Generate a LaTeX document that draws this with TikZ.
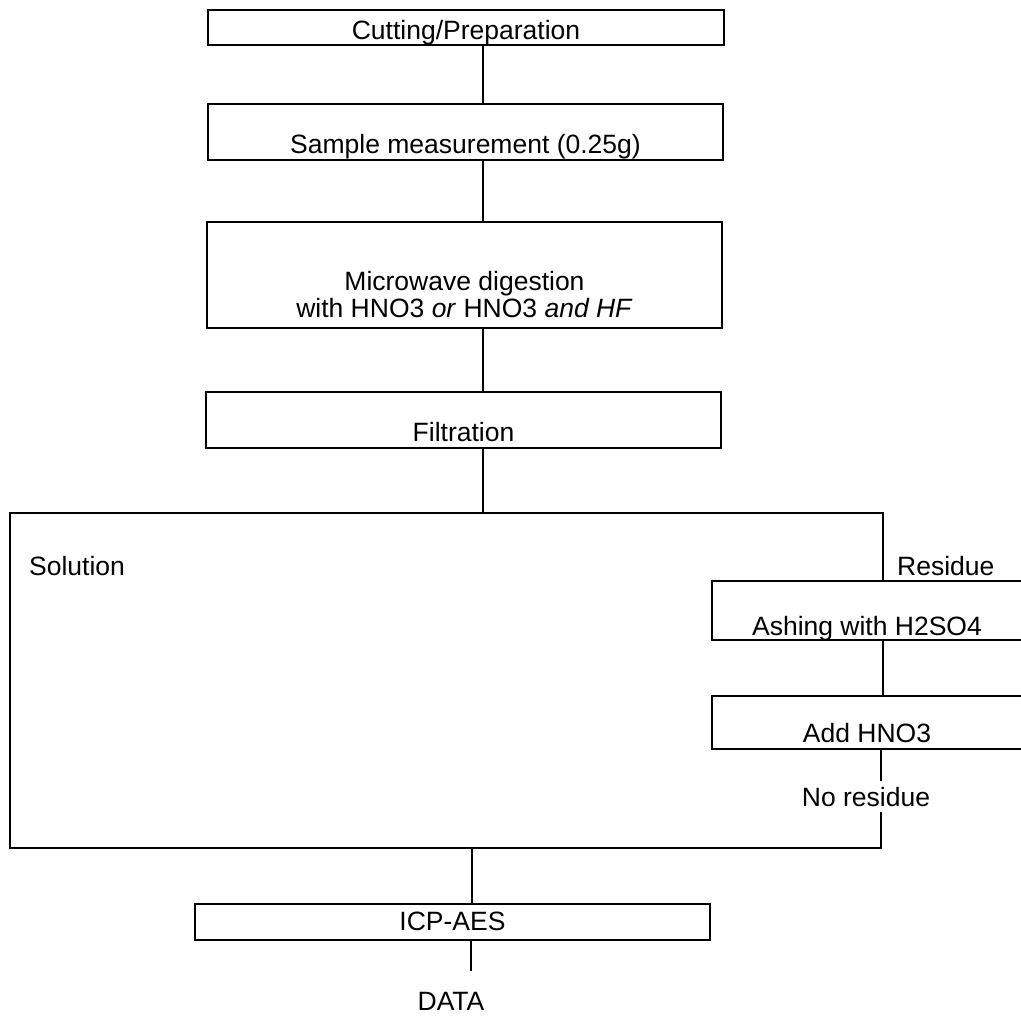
\documentclass[tikz,border=0pt]{standalone}
\usepackage{fontspec}
\setmainfont{Liberation Sans}
\usetikzlibrary{positioning, calc}

\tikzset{
	stepbox/.style={draw, line width=1.5pt, rectangle, inner sep=0pt, minimum width=515pt, anchor=base},
	steptext/.style={inner sep=0pt, anchor=base},
	link/.style={line width=1.5pt}
}

\begin{document}
\begin{tikzpicture}[x=1pt, y=-1pt, font=\fontsize{26.5}{25}\selectfont]
	\useasboundingbox (0,0) rectangle (1021,1017);
	\clip (0,0) rectangle (1021,1017);
	% main column
	\node[stepbox, minimum width=516pt, text height=29pt, text depth=6pt] (cut) at (466,39) {Cutting/Preparation};
	\node[stepbox, text height=49pt, text depth=7pt] (meas) at (465.5,153) {Sample measurement (0.25g)};
	\node[stepbox, text height=95pt, text depth=11pt] (micro) at (464.5,317)
		{\begin{tabular}[b]{@{}c@{}}Microwave digestion\\ with HNO3 \textit{or} HNO3 \textit{and HF}\end{tabular}};
	\node[stepbox, text height=49pt, text depth=7pt] (filt) at (463.5,441) {Filtration};
	\coordinate (spine) at (483,0);
	\draw[link] (cut.south -| spine) -- (meas.north -| spine);
	\draw[link] (meas.south -| spine) -- (micro.north -| spine);
	\draw[link] (micro.south -| spine) -- (filt.north -| spine);
	% frame and residue branch
	\coordinate (ftl) at (10,513);
	\coordinate (ftr) at (883,513);
	\coordinate (fbl) at (10,848);
	\coordinate (fbr) at (881,848);
	\node[steptext, anchor=base west] (sol) at (29,575) {Solution};
	\node[steptext, anchor=base west] (res) at (897,575) {Residue};
	\node[stepbox, minimum width=310pt, text height=54pt, text depth=5pt] (ash) at (867,635) {Ashing with H2SO4};
	\node[stepbox, minimum width=310pt, text height=46pt, text depth=7pt] (add) at (867,742) {Add HNO3};
	\node[steptext, inner ysep=6pt, text depth=0pt] (nores) at (866,806) {No residue};
	\draw[link] (filt.south -| spine) -- (spine |- ftl);
	\draw[link] (ash.north -| ftr) -- (ftr) -- (ftl) -- (fbl) -- (fbr) -- (nores.south -| fbr);
	\draw[link] (ash.south -| ftr) -- (add.north -| ftr);
	\draw[link] (add.south -| fbr) -- (nores.north -| fbr);
	% output
	\node[stepbox, text height=26pt, text depth=10pt] (icp) at (452.5,930) {ICP-AES};
	\node[steptext] (data) at (451,1010) {DATA};
	\coordinate (lowspine) at (472,0);
	\coordinate (dataend) at (471,971);
	\draw[link] (lowspine |- fbl) -- (icp.north -| lowspine);
	\draw[link] (icp.south -| dataend) -- (dataend);
\end{tikzpicture}
\end{document}
